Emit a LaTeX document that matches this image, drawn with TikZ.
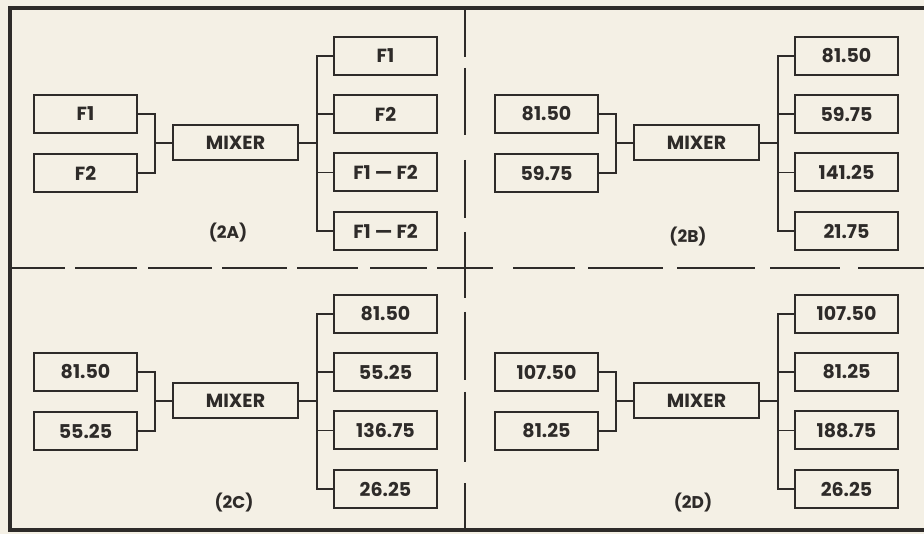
\documentclass[tikz,border=0pt]{standalone}
\usepackage{fontspec}
\setmainfont{Poppins}
\usetikzlibrary{positioning}

\definecolor{paper}{RGB}{244,240,229}
\definecolor{ink}{RGB}{46,43,41}

\tikzset{
  box/.style={draw=ink, line width=2pt, minimum width=103pt, minimum height=38pt,
    inner sep=0pt, text=ink, font=\fontsize{19}{20}\selectfont\bfseries},
  mixbox/.style={box, minimum width=125pt, minimum height=35pt},
  wire/.style={draw=ink, line width=1.6pt},
  divider/.style={draw=ink, line width=2.8pt},
  tag/.style={text=ink, font=\fontsize{17}{18}\selectfont\bfseries}
}

\begin{document}
\begin{tikzpicture}[x=1pt,y=-1pt]
\useasboundingbox (0,0) rectangle (924,534);
\fill[paper] (0,0) rectangle (924,534);

% outer frame
\draw[ink, line width=4pt] (924,8) -- (10,8) -- (10,530) -- (924,530);

% dashed dividers
\draw[divider] (465,8) -- (465,57)  (465,68) -- (465,135)  (465,160) -- (465,218)
  (465,232) -- (465,298)  (465,312) -- (465,380)  (465,392) -- (465,462)
  (465,483) -- (465,530);
\draw[divider] (10,268) -- (65,268)  (75,268) -- (137,268)  (148,268) -- (212,268)
  (222,268) -- (287,268)  (297,268) -- (358,268)  (370,268) -- (427,268)
  (437,268) -- (493,268)  (513,268) -- (575,268)  (588,268) -- (663,268)
  (677,268) -- (755,268)  (770,268) -- (840,268)  (858,268) -- (924,268);

% the four mixer panels
\foreach \ox/\oy/\p/\ia/\ib/\oa/\ob/\oc/\od/\lab/\lx/\ly in {
    0/0/a/F1/F2/F1/F2/F1 — F2/F1 — F2/A/228/233,
    461/0/b/81.50/59.75/81.50/59.75/141.25/21.75/B/227/237,
    0/258/c/81.50/55.25/81.50/55.25/136.75/26.25/C/234/245,
    461/258/d/107.50/81.25/107.50/81.25/188.75/26.25/D/232/245}
{
  \node[box] (\p-in1) at (\ox+85.5,\oy+114) {\ia};
  \node[box] (\p-in2) at (\ox+85.5,\oy+173) {\ib};
  \node[mixbox] (\p-mix) at (\ox+235.5,\oy+143) {MIXER};
  \node[box] (\p-o1) at (\ox+385.5,\oy+56) {\oa};
  \node[box] (\p-o2) at (\ox+385.5,\oy+114) {\ob};
  \node[box] (\p-o3) at (\ox+385.5,\oy+172.5) {\oc};
  \node[box] (\p-o4) at (\ox+385.5,\oy+231) {\od};
  \node[tag] (\p-lab) at (\ox+\lx,\oy+\ly) {(2\lab)};

  \coordinate (\p-j) at ([xshift=-17pt]\p-mix.west);
  \coordinate (\p-k) at ([xshift=18pt]\p-mix.east);

  \draw[wire] (\p-in1.east) -| (\p-j) |- (\p-in2.east);
  \draw[wire] (\p-j) -- (\p-mix.west);
  \draw[wire] (\p-mix.east) -- (\p-k);
  \draw[wire] (\p-o1.west) -| (\p-k) |- (\p-o4.west);
  \draw[wire] (\p-o2.west) -- (\p-o2.west -| \p-k);
  \draw[wire] (\p-o3.west) -- (\p-o3.west -| \p-k);
}
\end{tikzpicture}
\end{document}
